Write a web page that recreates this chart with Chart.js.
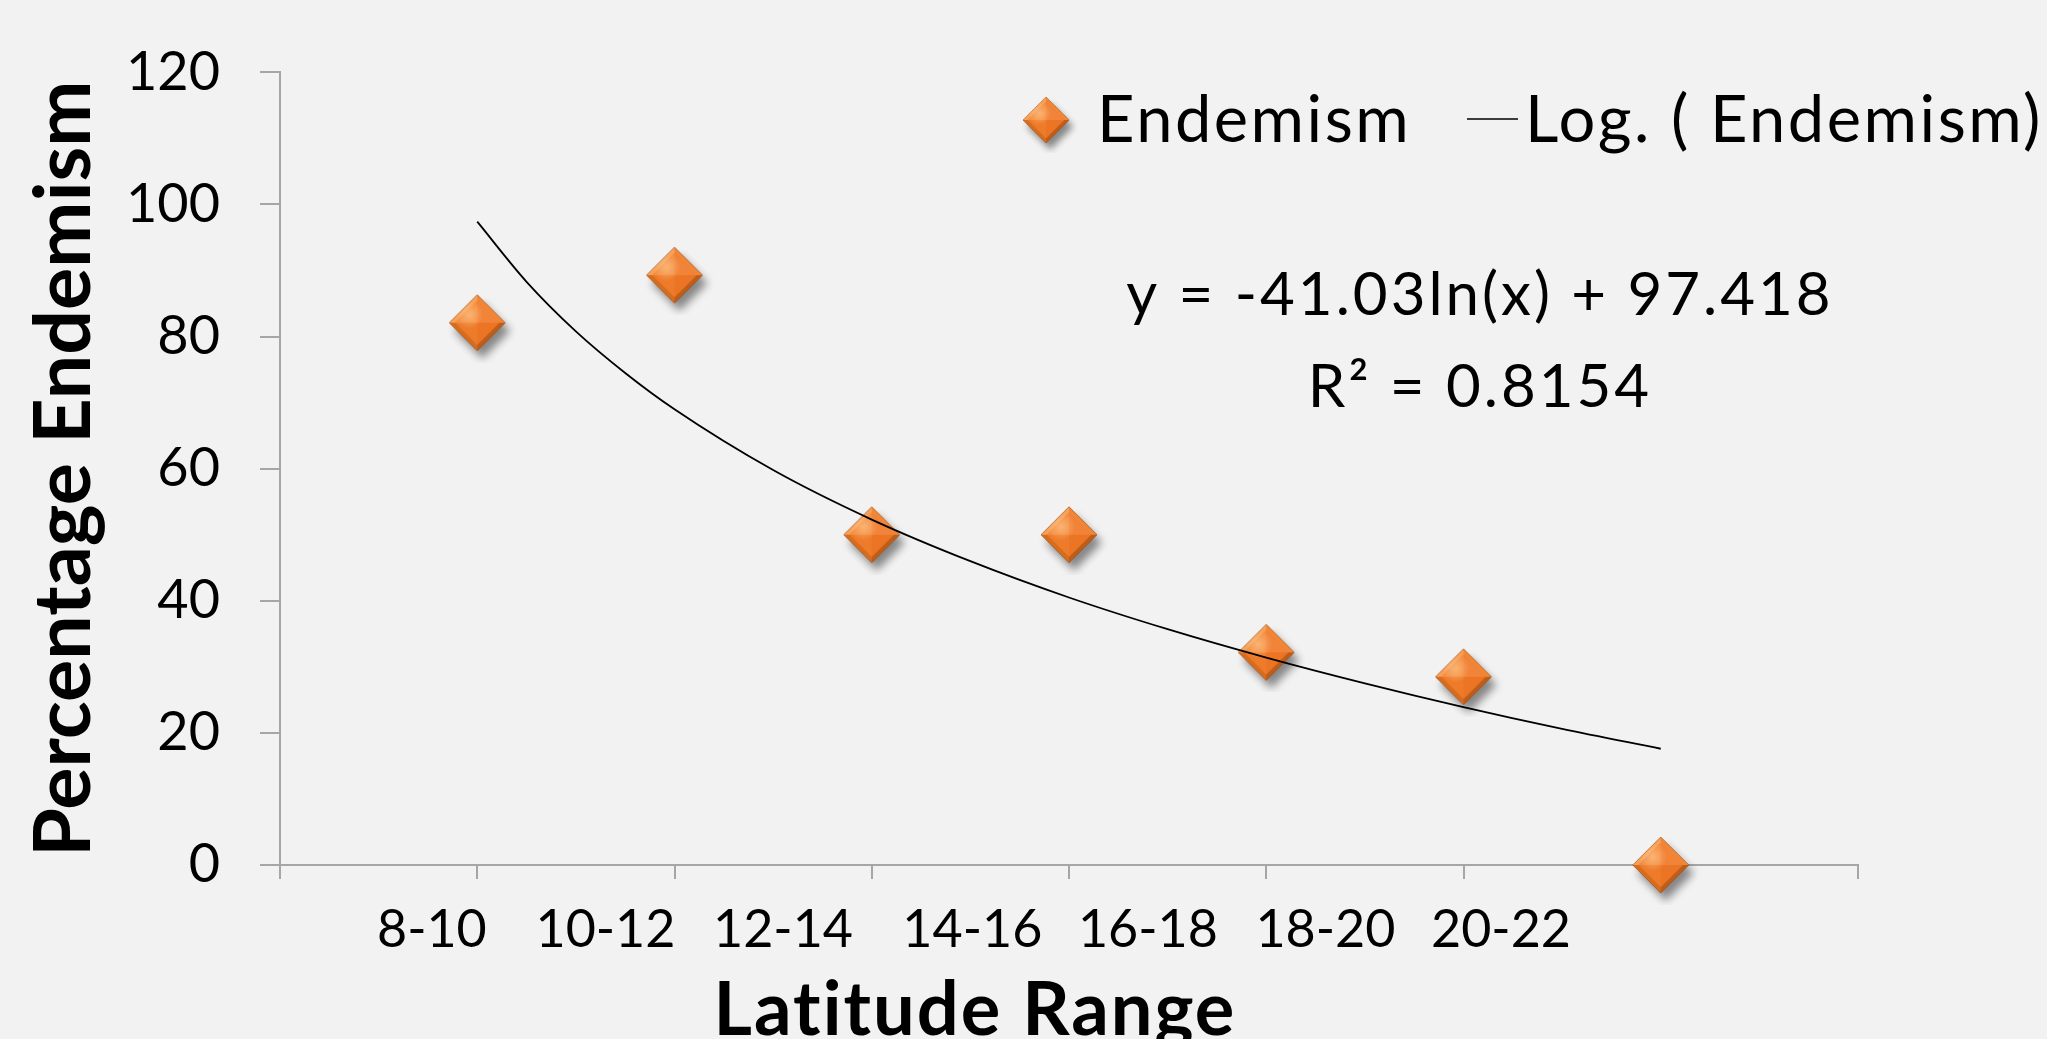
<!DOCTYPE html>
<html>
<head>
<meta charset="utf-8">
<script src="https://cdn.jsdelivr.net/npm/chart.js@4.4.1/dist/chart.umd.min.js"></script>
<style>
  html, body { margin: 0; padding: 0; background: #F2F2F2; }
  canvas { display: block; }
</style>
</head>
<body>
<canvas id="endemismChart" width="2047" height="1039"></canvas>
<script>
const latRanges = ["8-10", "10-12", "12-14", "14-16", "16-18", "18-20", "20-22"];
const labelAt = [0.77, 1.65, 2.55, 3.51, 4.4, 5.3, 6.19];
const pointX = [1, 2, 3, 4, 5, 6, 7];
const endemism = [82.1, 89.3, 50, 50, 32.2, 28.5, 0];
// trendline
const trendX = [1, 1.25, 1.5, 1.75, 2, 2.5, 3, 3.5, 4, 4.5, 5, 5.5, 6, 6.5, 7];
const trendY = [97.4, 88.3, 80.8, 74.5, 69.0, 59.8, 52.3, 46.0, 40.5, 35.7, 31.4, 27.5, 23.9, 20.6, 17.6];
const trendEquation = "y = -41.03ln(x) + 97.418";
const trendR2 = "R\u00B2 = 0.8154";
const xTitle = "Latitude Range";
const yTitle = "Percentage Endemism";

const axisGray = "#A6A6A6";
const fontFamily = "Lato, 'Open Sans', sans-serif";

// beveled orange diamond like the Excel marker
function makeDiamond() {
  const c = document.createElement("canvas");
  c.width = 80;
  c.height = 80;
  const g = c.getContext("2d");
  const cx = 40, cy = 40, r = 28, ri = 22;
  const poly = (pts) => {
    g.beginPath();
    g.moveTo(pts[0][0], pts[0][1]);
    for (let i = 1; i < pts.length; i++) g.lineTo(pts[i][0], pts[i][1]);
    g.closePath();
  };
  const T = [cx, cy - r], R = [cx + r, cy], B = [cx, cy + r], L = [cx - r, cy];
  const t = [cx, cy - ri], rr = [cx + ri, cy], b = [cx, cy + ri], l = [cx - ri, cy];

  g.save();
  g.shadowColor = "rgba(0,0,0,0.45)";
  g.shadowBlur = 9;
  g.shadowOffsetX = 5;
  g.shadowOffsetY = 8;
  g.fillStyle = "#E8761F";
  poly([T, R, B, L]);
  g.fill();
  g.restore();

  // bevel bands
  g.fillStyle = "#F7A05A"; poly([L, T, t, l]); g.fill();
  g.fillStyle = "#F08636"; poly([T, R, rr, t]); g.fill();
  g.fillStyle = "#BE5C1A"; poly([R, B, b, rr]); g.fill();
  g.fillStyle = "#D66C1E"; poly([B, L, l, b]); g.fill();

  // inner pyramid faces
  const C = [cx, cy];
  g.fillStyle = "#F48C40"; poly([C, l, t]); g.fill();
  g.fillStyle = "#F2843A"; poly([C, t, rr]); g.fill();
  g.fillStyle = "#EB7524"; poly([C, rr, b]); g.fill();
  g.fillStyle = "#EE7B2A"; poly([C, b, l]); g.fill();

  // soft highlight on the upper left
  const hl = g.createRadialGradient(cx - 8, cy - 8, 1, cx - 8, cy - 8, 14);
  hl.addColorStop(0, "rgba(255,215,160,0.5)");
  hl.addColorStop(1, "rgba(255,215,160,0)");
  g.fillStyle = hl;
  poly([T, R, B, L]);
  g.fill();

  g.strokeStyle = "rgba(130,60,10,0.45)";
  g.lineWidth = 1;
  poly([T, R, B, L]);
  g.stroke();
  return c;
}

const diamond = makeDiamond();

const annotate = {
  id: "annotate",
  afterDraw(chart) {
    const ctx = chart.ctx;
    const sets = chart.data.datasets;
    ctx.save();
    ctx.fillStyle = "#000";
    ctx.textBaseline = "alphabetic";

    // legend
    ctx.drawImage(diamond, 1046 - 33, 120 - 33, 66, 66);
    ctx.font = "65px " + fontFamily;
    ctx.letterSpacing = "2.5px";
    ctx.textAlign = "left";
    ctx.fillText(sets[0].label, 1097, 142);
    ctx.strokeStyle = "#000";
    ctx.lineWidth = 1.5;
    ctx.beginPath();
    ctx.moveTo(1467, 119);
    ctx.lineTo(1518, 119);
    ctx.stroke();
    ctx.fillText(sets[1].label, 1525, 142);

    // trendline equation
    ctx.font = "60px " + fontFamily;
    ctx.letterSpacing = "3px";
    ctx.textAlign = "center";
    ctx.fillText(trendEquation, 1480, 315);
    ctx.fillText(trendR2, 1480, 407);

    // x axis title
    ctx.font = "bold 74px " + fontFamily;
    ctx.letterSpacing = "2px";
    ctx.fillText(xTitle, 975, 1035);
    ctx.restore();
  }
};

const ctx = document.getElementById("endemismChart");

const endemismChart = new Chart(ctx, {
  type: "scatter",
  data: {
    datasets: [{
      label: "Endemism",
      data: pointX.map((x, i) => ({ x: x, y: endemism[i] })),
      pointStyle: diamond,
      pointRadius: 28,
      pointHoverRadius: 28,
      order: 1,
      clip: false
    }, {
      label: "Log. ( Endemism)",
      data: trendX.map((x, i) => ({ x: x, y: trendY[i] })),
      showLine: true,
      borderColor: "#000",
      borderWidth: 1.8,
      pointRadius: 0,
      pointHoverRadius: 0,
      cubicInterpolationMode: "monotone",
      order: 0,
      clip: false
    }]
  },
  options: {
    responsive: false,
    animation: false,
    devicePixelRatio: 1,
    layout: {
      padding: { top: 72, right: 189, left: 0, bottom: 0 }
    },
    plugins: {
      legend: { display: false },
      tooltip: { enabled: false }
    },
    scales: {
      x: {
        type: "linear",
        position: "bottom",
        min: 0,
        max: 8,
        ticks: { display: false, stepSize: 1 },
        grid: { drawOnChartArea: false, tickLength: 14, color: axisGray, lineWidth: 2 },
        border: { color: axisGray, width: 2 },
        afterFit(scale) { scale.height = 14; }
      },
      x2: {
        type: "linear",
        position: "bottom",
        min: 0,
        max: 8,
        afterBuildTicks(scale) {
          scale.ticks = labelAt.map(v => ({ value: v }));
        },
        ticks: {
          callback: (value, index) => latRanges[index],
          autoSkip: false,
          maxRotation: 0,
          padding: 20,
          color: "#000",
          font: { family: fontFamily, size: 52 }
        },
        grid: { display: false, drawTicks: false },
        border: { display: false },
        afterFit(scale) { scale.height = 160; }
      },
      y: {
        min: 0,
        max: 120,
        ticks: {
          stepSize: 20,
          padding: 40,
          color: "#000",
          font: { family: fontFamily, size: 54 }
        },
        grid: { drawOnChartArea: false, tickLength: 20, color: axisGray, lineWidth: 2 },
        border: { color: axisGray, width: 2 },
        title: {
          display: true,
          text: yTitle,
          color: "#000",
          font: { family: fontFamily, size: 79, weight: "bold" },
          padding: { top: 17, bottom: 0 }
        },
        afterFit(scale) { scale.width = 280; }
      }
    }
  },
  plugins: [annotate]
});
</script>
</body>
</html>
